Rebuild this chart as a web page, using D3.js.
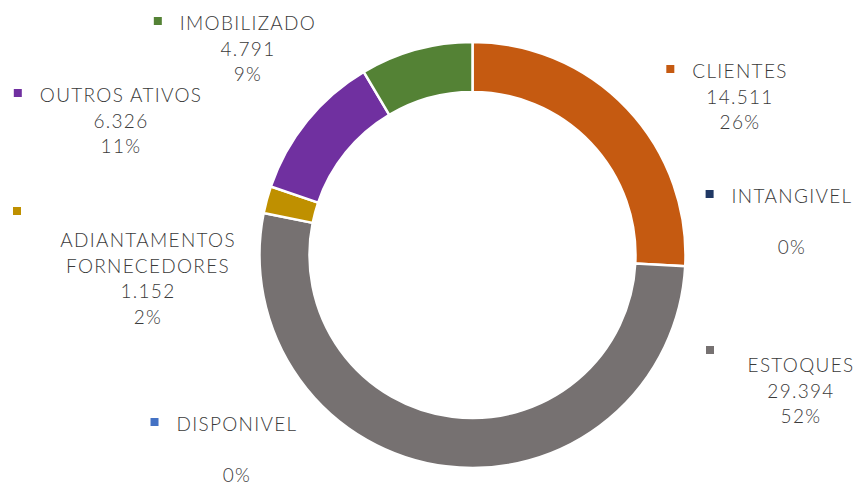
<!DOCTYPE html>
<html lang="pt">
<head>
<meta charset="UTF-8">
<title>Ativos</title>
<script src="https://d3js.org/d3.v7.min.js"></script>
<style>
  html, body { margin: 0; padding: 0; background: #fff; }
  svg { display: block; }
  .lbl { font-family: Lato, "DejaVu Sans", sans-serif; font-size: 19px; font-weight: 300; fill: #3a3a3a; letter-spacing: 1.3px; }
</style>
</head>
<body>
<div id="chart"></div>
<script>
// data (clockwise from 12 o'clock)
const categories = ["CLIENTES", "INTANGIVEL", "ESTOQUES", "DISPONIVEL", "ADIANTAMENTOS FORNECEDORES", "OUTROS ATIVOS", "IMOBILIZADO"];
const values = [14511, 0, 29394, 0, 1152, 6326, 4791];
const colors = ["#C55A11", "#203864", "#767171", "#4472C4", "#BF9000", "#7030A0", "#548235"];

// label layout: block center x, baseline of first text line, where the key square goes
const labelLayout = [
  { cx: 740, y: 78,  key: "inline" },
  { cx: 792, y: 203, key: "inline" },
  { cx: 801, y: 372, key: "above", kx: 706, ky: 350 },
  { cx: 237, y: 431, key: "inline" },
  { cx: 148, y: 247, key: "above", kx: 13, ky: 211, wrap: ["ADIANTAMENTOS", "FORNECEDORES"] },
  { cx: 121, y: 102, key: "inline" },
  { cx: 248, y: 30,  key: "inline" }
];

const width = 857, height = 486;
const cx = 472.5, cy = 255;
const outerR = 213, innerR = 163;
const lineH = 25.7;

const svg = d3.select("#chart").append("svg")
  .attr("width", width)
  .attr("height", height);

const total = d3.sum(values);
const fmtNum = v => v === 0 ? "" : d3.format(",")(v).replace(/,/g, ".");
const fmtPct = v => Math.round(v / total * 100) + "%";

const pie = d3.pie().sort(null).value(d => d)(values);
const arc = d3.arc().innerRadius(innerR).outerRadius(outerR);

const g = svg.append("g").attr("transform", `translate(${cx},${cy})`);
g.selectAll("path")
  .data(pie)
  .join("path")
  .attr("d", arc)
  .attr("fill", (d, i) => colors[i])
  .attr("stroke", "#fff")
  .attr("stroke-width", (d) => d.value === 0 ? 0 : 2.5);

// labels
categories.forEach((name, i) => {
  const L = labelLayout[i];
  const nameLines = L.wrap || [name];
  const lines = nameLines.concat([fmtNum(values[i]), fmtPct(values[i])]);
  const t = svg.append("text")
    .attr("class", "lbl")
    .attr("text-anchor", "middle");
  lines.forEach((s, k) => {
    t.append("tspan")
      .attr("x", L.cx)
      .attr("y", L.y + k * lineH)
      .text(s);
  });
  if (L.key === "inline") {
    const w = t.select("tspan").node().getComputedTextLength();
    svg.append("rect")
      .attr("x", L.cx - w / 2 - 26)
      .attr("y", L.y - 13)
      .attr("width", 8).attr("height", 8)
      .attr("fill", colors[i]);
  } else {
    svg.append("rect")
      .attr("x", L.kx).attr("y", L.ky - 4)
      .attr("width", 8).attr("height", 8)
      .attr("fill", colors[i]);
  }
});
</script>
</body>
</html>
